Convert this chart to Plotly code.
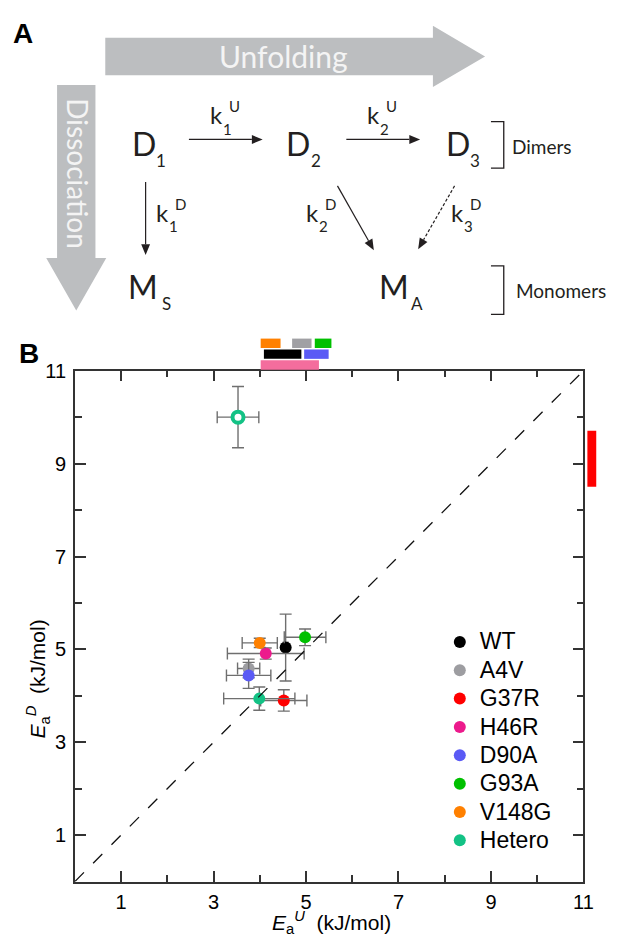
import plotly.graph_objects as go
import math

W, H = 621, 934

# ---------------- data (panel B) ----------------
mutants = ["WT", "A4V", "G37R", "H46R", "D90A", "G93A", "V148G", "Hetero"]
colors = ["#000000", "#9d9da1", "#ff0000", "#ec1a8c", "#5a5af5", "#00c000", "#ff8000", "#13c285"]
ea_u = [4.56, 3.76, 4.52, 4.13, 3.76, 4.98, 4.00, 3.99]
ea_u_err = [0.05, 0.24, 0.50, 0.83, 0.48, 0.45, 0.38, 0.77]
ea_d = [5.04, 4.59, 3.90, 4.91, 4.44, 5.26, 5.14, 3.94]
ea_d_err = [0.72, 0.20, 0.23, 0.12, 0.28, 0.18, 0.10, 0.25]

hetero_open_u = [3.53]
hetero_open_u_err = [0.45]
hetero_open_d = [10.0]
hetero_open_d_err = [0.66]

# ranges drawn outside the plot (top: Ea^U ranges, right: Ea^D range)
top_range_names = ["V148G", "A4V", "G93A", "WT", "D90A", "H46R"]
top_range_lo = [4.02, 4.70, 5.19, 4.09, 4.96, 4.02]
top_range_hi = [4.45, 5.12, 5.55, 4.90, 5.49, 5.28]
top_range_colors = ["#ff8000", "#a0a0a4", "#00c000", "#000000", "#5a5af5", "#f46d9d"]
right_range_lo = [8.50]
right_range_hi = [9.71]
right_range_colors = ["#ff0000"]

tick_vals = [1, 3, 5, 7, 9, 11]
tick_text = ["1", "3", "5", "7", "9", "11"]
minor_vals = [2, 4, 6, 8, 10]

# ---------------- layout helpers ----------------
def px(x):
    return x / W

def py(y):
    return 1 - y / H

PL, PR, PT, PB = 76, 593, 364, 881  # plot area in pixels

fig = go.Figure()

def legend_label(s):
    return '<span style="font-size:23px">%s</span>' % s

for name, c, xu, xe, yd, ye in zip(mutants, colors, ea_u, ea_u_err, ea_d, ea_d_err):
    fig.add_trace(go.Scatter(
        x=[xu], y=[yd], mode="markers", name=legend_label(name),
        marker=dict(color=c, size=12, line=dict(width=0)),
        error_x=dict(type="data", array=[xe], color="#6f6f6f", thickness=1.4, width=6),
        error_y=dict(type="data", array=[ye], color="#6f6f6f", thickness=1.4, width=6),
    ))

fig.add_trace(go.Scatter(
    x=hetero_open_u, y=hetero_open_d, mode="markers", name="Hetero", showlegend=False,
    marker=dict(color="white", size=11, line=dict(width=4, color=colors[-1])),
    error_x=dict(type="data", array=hetero_open_u_err, color="#6f6f6f", thickness=1.4, width=6),
    error_y=dict(type="data", array=hetero_open_d_err, color="#6f6f6f", thickness=1.4, width=6),
))

# diagonal y = x
fig.add_trace(go.Scatter(
    x=[0, 11], y=[0, 11], mode="lines", showlegend=False, hoverinfo="skip",
    line=dict(color="#111111", width=1.3, dash="13px,13px"),
))

shapes = []
# top range bars (rows stacked above the top axis)
row_of = {"V148G": 2, "A4V": 2, "G93A": 2, "WT": 1, "D90A": 1, "H46R": 0}
row_h = 9.5
for nm, lo, hi, c in zip(top_range_names, top_range_lo, top_range_hi, top_range_colors):
    r = row_of[nm]
    y_bot = PT - 1 - r * 11
    shapes.append(dict(type="rect", xref="x", yref="paper", x0=lo, x1=hi,
                       y0=py(y_bot), y1=py(y_bot - row_h), fillcolor=c,
                       line=dict(width=0), layer="above"))
for lo, hi, c in zip(right_range_lo, right_range_hi, right_range_colors):
    shapes.append(dict(type="rect", xref="paper", yref="y", x0=px(597), x1=px(606),
                       y0=lo, y1=hi, fillcolor=c, line=dict(width=0)))

# ---------------- panel A diagram ----------------
GRAY = "#bcbec0"
INK = "#231f20"

def path(points, close=True):
    s = "M " + " L ".join(f"{px(x):.5f},{py(y):.5f}" for x, y in points)
    return s + (" Z" if close else "")

shapes.append(dict(type="path", xref="paper", yref="paper", fillcolor=GRAY, line=dict(width=0),
                   path=path([(107, 27), (440, 27), (440, 15), (493, 46), (440, 77), (440, 65), (107, 65)])))
shapes.append(dict(type="path", xref="paper", yref="paper", fillcolor=GRAY, line=dict(width=0),
                   path=path([(58, 75), (97, 75), (97, 250), (108, 250), (77.5, 303), (47, 250), (58, 250)])))

def arrow(x0, y0, x1, y1, dash="solid"):
    dx, dy = x1 - x0, y1 - y0
    n = math.hypot(dx, dy)
    dx, dy = dx / n, dy / n
    L, w = 11, 4.5
    bx, by = x1 - L * dx, y1 - L * dy
    nx, ny = -dy, dx
    shapes.append(dict(type="line", xref="paper", yref="paper",
                       x0=px(x0), y0=py(y0), x1=px(bx), y1=py(by),
                       line=dict(color=INK, width=1.2, dash=dash)))
    shapes.append(dict(type="path", xref="paper", yref="paper", fillcolor=INK, line=dict(width=0),
                       path=path([(x1, y1), (bx + w * nx, by + w * ny), (bx - w * nx, by - w * ny)])))

arrow(192, 130, 267, 130)
arrow(352, 130, 427, 130)
arrow(148, 173, 148, 247)
arrow(343, 177, 380, 242)
arrow(462, 177, 425, 241, dash="3px,2px")

for yt, yb in [(112, 159), (258, 307)]:
    shapes.append(dict(type="path", xref="paper", yref="paper", line=dict(color=INK, width=1.3),
                       path=path([(499, yt), (512, yt), (512, yb), (499, yb)], close=False)))

ann = []
FA = "Lato, Open Sans, sans-serif"
FB = "Liberation Sans, Arial, sans-serif"

def txt(x, y, s, size, color=INK, family=FA, xanchor="center", angle=0, bold=False):
    ann.append(dict(x=px(x), y=py(y), xref="paper", yref="paper", text=("<b>%s</b>" % s) if bold else s,
                    showarrow=False, xanchor=xanchor, yanchor="middle", textangle=angle,
                    font=dict(size=size, color=color, family=family)))

txt(23, 23, "A", 28, color="#000", family=FB, bold=True)
txt(29, 347, "B", 28, color="#000", family=FB, bold=True)
txt(288, 46, "Unfolding", 30, color="#f4f4f4")
txt(79, 164, "Dissociation", 28, color="#f4f4f4", angle=90)

for (x, sub) in [(146, "1"), (303, "2"), (465, "3")]:
    txt(x, 134, "D", 32)
    txt(x + 18, 151, sub, 17)
for (x, y, sup, sub) in [(220, 105, "U", "1"), (380, 105, "U", "2"),
                         (165, 204, "D", "1"), (318, 204, "D", "2"), (465, 204, "D", "3")]:
    txt(x, y, "k", 24)
    txt(x + 18, y - 9, sup, 15)
    txt(x + 11, y + 14, sub, 15)
txt(145, 279, "M", 32)
txt(169, 296, "S", 17)
txt(400, 279, "M", 32)
txt(424, 296, "A", 17)
txt(518, 137, "Dimers", 19, xanchor="left")
txt(522, 283, "Monomers", 19, xanchor="left")

# axis titles
txt(337, 922, "<i>E</i><sub>a</sub><sup><i>U</i></sup>  (kJ/mol)", 21, color="#000", family=FB)
txt(38, 676, "<i>E</i><sub>a</sub><sup><i>D</i></sup>  (kJ/mol)", 21, color="#000", family=FB, angle=-90)

axis_common = dict(
    range=[0, 11], tickvals=tick_vals, ticktext=tick_text, ticks="inside", ticklen=11,
    tickwidth=1.5, tickcolor="#333333", showline=True, linecolor="#333333", linewidth=1.5,
    mirror="ticks", showgrid=False, zeroline=False,
    tickfont=dict(family=FB, size=20, color="#000"),
    minor=dict(tickvals=minor_vals, ticks="inside", ticklen=7, tickwidth=1.5, tickcolor="#333333", showgrid=False),
)

fig.update_layout(
    width=W, height=H, margin=dict(l=0, r=0, t=0, b=0),
    paper_bgcolor="white", plot_bgcolor="white",
    xaxis=dict(domain=[px(PL), px(PR)], ticklabelstandoff=2, **axis_common),
    yaxis=dict(domain=[py(PB), py(PT)], ticklabelstandoff=3, **axis_common),
    shapes=shapes, annotations=ann,
    legend=dict(x=px(447), y=py(619), xanchor="left", yanchor="top", bgcolor="rgba(0,0,0,0)",
                font=dict(family=FB, size=19.5, color="#000"), itemsizing="constant", tracegroupgap=0),
    showlegend=True,
)

post = ("document.documentElement.style.overflow='hidden';"
        "document.body.style.margin='0px';document.body.style.overflow='hidden';"
        "var g=document.getElementsByClassName('plotly-graph-div')[0];"
        "g.style.position='fixed';g.style.left='0px';g.style.top='0px';")

fig.write_html("out.html", config={"displayModeBar": False}, post_script=post)
